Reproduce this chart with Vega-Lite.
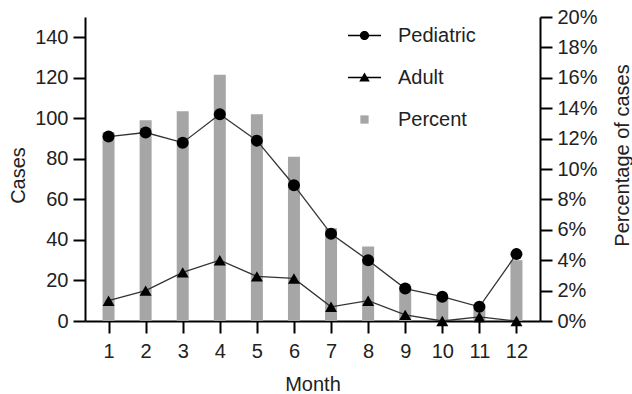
{
  "$schema": "https://vega.github.io/schema/vega-lite/v6.json",
  "autosize": {"type": "none"},
  "width": 455,
  "height": 304,
  "padding": {"left": 85, "top": 17, "right": 92, "bottom": 73},
  "background": "white",
  "config": {
    "view": {"stroke": null},
    "font": "Liberation Sans",
    "axis": {
      "labelFont": "Liberation Sans",
      "titleFont": "Liberation Sans",
      "labelFontSize": 20,
      "titleFontSize": 20,
      "titleFontWeight": "normal",
      "labelColor": "#222222",
      "titleColor": "#222222",
      "domainColor": "#000000",
      "domainWidth": 2,
      "tickColor": "#000000",
      "tickWidth": 2,
      "tickSize": 12,
      "grid": false
    },
    "legend": {
      "labelFont": "Liberation Sans",
      "labelFontSize": 20,
      "labelColor": "#222222"
    }
  },
  "datasets": {
    "pct": [
      {"month": 1, "group": "Percent", "percent": 0.124},
      {"month": 2, "group": "Percent", "percent": 0.132},
      {"month": 3, "group": "Percent", "percent": 0.138},
      {"month": 4, "group": "Percent", "percent": 0.162},
      {"month": 5, "group": "Percent", "percent": 0.136},
      {"month": 6, "group": "Percent", "percent": 0.108},
      {"month": 7, "group": "Percent", "percent": 0.061},
      {"month": 8, "group": "Percent", "percent": 0.049},
      {"month": 9, "group": "Percent", "percent": 0.023},
      {"month": 10, "group": "Percent", "percent": 0.015},
      {"month": 11, "group": "Percent", "percent": 0.011},
      {"month": 12, "group": "Percent", "percent": 0.040}
    ],
    "cases": [
      {"month": 1, "group": "Pediatric", "cases": 91},
      {"month": 2, "group": "Pediatric", "cases": 93},
      {"month": 3, "group": "Pediatric", "cases": 88},
      {"month": 4, "group": "Pediatric", "cases": 102},
      {"month": 5, "group": "Pediatric", "cases": 89},
      {"month": 6, "group": "Pediatric", "cases": 67},
      {"month": 7, "group": "Pediatric", "cases": 43},
      {"month": 8, "group": "Pediatric", "cases": 30},
      {"month": 9, "group": "Pediatric", "cases": 16},
      {"month": 10, "group": "Pediatric", "cases": 12},
      {"month": 11, "group": "Pediatric", "cases": 7},
      {"month": 12, "group": "Pediatric", "cases": 33},
      {"month": 1, "group": "Adult", "cases": 10},
      {"month": 2, "group": "Adult", "cases": 15},
      {"month": 3, "group": "Adult", "cases": 24},
      {"month": 4, "group": "Adult", "cases": 30},
      {"month": 5, "group": "Adult", "cases": 22},
      {"month": 6, "group": "Adult", "cases": 21},
      {"month": 7, "group": "Adult", "cases": 7},
      {"month": 8, "group": "Adult", "cases": 10},
      {"month": 9, "group": "Adult", "cases": 3},
      {"month": 10, "group": "Adult", "cases": 0},
      {"month": 11, "group": "Adult", "cases": 2},
      {"month": 12, "group": "Adult", "cases": 0}
    ]
  },
  "layer": [
    {
      "data": {"name": "pct"},
      "mark": {"type": "bar", "size": 12},
      "encoding": {
        "x": {
          "field": "month", "type": "quantitative",
          "scale": {"domain": [0.5, 12.5], "nice": false, "zero": false},
          "axis": {"values": [1,2,3,4,5,6,7,8,9,10,11,12], "title": "Month", "labelPadding": 8, "titleX": 227.5, "titleY": 63, "titleBaseline": "middle", "labelFlush": false}
        },
        "y": {
          "field": "percent", "type": "quantitative",
          "scale": {"domain": [0, 0.2], "nice": false},
          "axis": {"orient": "right", "values": [0,0.02,0.04,0.06,0.08,0.1,0.12,0.14,0.16,0.18,0.2], "format": ".0%", "title": "Percentage of cases", "labelPadding": 5, "titleAngle": 270, "titleX": 82, "titleY": 138, "titleBaseline": "middle", "titleAlign": "center", "labelFlush": false}
        },
        "color": {
          "field": "group", "type": "nominal",
          "scale": {"domain": ["Pediatric", "Adult", "Percent"], "range": ["#000000", "#000000", "#a6a6a6"]},
          "legend": {
            "title": null,
            "orient": "none",
            "legendX": 262,
            "legendY": 1,
            "padding": 0,
            "symbolSize": 1089,
            "labelOffset": 16,
            "rowPadding": 14,
            "encode": {
              "symbols": {
                "update": {
                  "shape": {"signal": "datum.value === 'Pediatric' ? 'M-1,-0.04H1V0.04H-1Z M-0.28,0A0.28,0.28 0 1,1 0.28,0A0.28,0.28 0 1,1 -0.28,0Z' : datum.value === 'Adult' ? 'M-1,-0.04H1V0.04H-1Z M0,-0.3L0.32,0.24L-0.32,0.24Z' : 'M-0.25,-0.25H0.25V0.25H-0.25Z'"},
                  "fill": {"signal": "datum.value === 'Percent' ? '#a6a6a6' : '#000000'"},
                  "stroke": {"value": "transparent"},
                  "opacity": {"value": 1},
                  "fillOpacity": {"value": 1}
                }
              }
            }
          }
        }
      }
    },
    {
      "data": {"name": "cases"},
      "encoding": {
        "x": {"field": "month", "type": "quantitative"},
        "y": {
          "field": "cases", "type": "quantitative",
          "scale": {"domain": [0, 150], "nice": false},
          "axis": {"orient": "left", "values": [0,20,40,60,80,100,120,140], "title": "Cases", "labelPadding": 5, "titleAngle": 270, "titleX": -67, "titleY": 158, "titleBaseline": "middle", "titleAlign": "center", "labelFlush": false}
        }
      },
      "layer": [
        {
          "mark": {"type": "line", "color": "#333333", "strokeWidth": 1.3},
          "encoding": {"detail": {"field": "group"}}
        },
        {
          "mark": {"type": "point", "filled": true, "size": 144, "opacity": 1},
          "encoding": {
            "color": {"field": "group", "type": "nominal"},
            "shape": {
              "field": "group", "type": "nominal",
              "scale": {"domain": ["Pediatric", "Adult"], "range": ["circle", "triangle-up"]},
              "legend": null
            }
          }
        }
      ]
    }
  ],
  "resolve": {"scale": {"y": "independent"}, "axis": {"y": "independent"}}
}
